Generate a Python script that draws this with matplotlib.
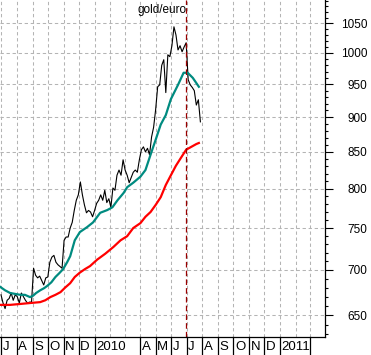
import matplotlib
matplotlib.use("Agg")
import matplotlib.pyplot as plt
import matplotlib.dates as mdates
import matplotlib.transforms as mtransforms
from matplotlib.ticker import FixedLocator, FuncFormatter, NullFormatter
import numpy as np
import pandas as pd

plt.rcParams['font.family'] = ['Liberation Sans', 'DejaVu Sans']

# gold priced in euro, sampled every 4 days from 1 Jul 2009
gold = [672, 663, 657, 666, 668, 674, 666, 672, 670, 663,
        674, 670, 666, 663, 664, 664, 702, 694, 691, 693,
        688, 683, 691, 692, 709, 715, 717, 709, 706, 704,
        702, 735, 739, 739, 750, 757, 772, 785, 792, 809,
        792, 779, 769, 772, 770, 764, 772, 781, 785, 792,
        785, 798, 782, 787, 776, 801, 798, 818, 825, 818,
        839, 825, 818, 808, 815, 822, 825, 822, 839, 853,
        857, 850, 855, 846, 871, 885, 911, 946, 949, 980,
        989, 937, 997, 994, 1012, 1044, 1030, 1005, 1012, 1002,
        1010, 1017, 957, 949, 945, 940, 918, 926, 893]
gold_dates = pd.date_range('2009-07-01', periods=len(gold), freq='4D')

# 50 day moving average
ma50_dates = pd.to_datetime([
    '2009-06-29', '2009-07-09', '2009-07-19', '2009-07-29', '2009-08-08',
    '2009-08-17', '2009-08-27', '2009-09-02', '2009-09-08', '2009-09-16',
    '2009-09-24', '2009-09-30', '2009-10-08', '2009-10-16', '2009-10-23',
    '2009-10-31', '2009-11-08', '2009-11-14', '2009-11-23', '2009-12-03',
    '2009-12-17', '2009-12-29', '2010-01-12', '2010-01-26', '2010-02-05',
    '2010-02-15', '2010-02-27', '2010-03-06', '2010-03-18', '2010-04-01',
    '2010-04-11', '2010-04-21', '2010-05-01', '2010-05-11', '2010-05-21',
    '2010-05-31', '2010-06-14', '2010-06-25', '2010-07-03', '2010-07-13',
    '2010-07-25'])
ma50 = [681, 677, 674, 673, 672, 672, 669.5, 671, 674, 677,
        679.5, 682, 686, 692, 696, 701, 709, 716, 735, 745,
        751, 757, 769, 772.5, 776, 785, 794.5, 802, 808, 816,
        825, 846, 867, 889, 903, 927, 949, 968, 968, 960,
        946]

# 200 day moving average
ma200_dates = pd.to_datetime([
    '2009-06-29', '2009-07-19', '2009-08-08', '2009-08-27', '2009-09-16',
    '2009-09-26', '2009-10-06', '2009-10-16', '2009-10-26', '2009-11-04',
    '2009-11-14', '2009-11-23', '2009-12-03', '2009-12-13', '2009-12-23',
    '2010-01-06', '2010-01-22', '2010-02-07', '2010-02-21', '2010-03-06',
    '2010-03-18', '2010-04-01', '2010-04-11', '2010-04-21', '2010-05-01',
    '2010-05-11', '2010-05-21', '2010-05-31', '2010-06-10', '2010-06-20',
    '2010-06-30', '2010-07-10', '2010-07-20', '2010-07-25'])
ma200 = [661, 661, 662, 663, 664, 666, 669.5, 672, 675, 680,
         685, 692, 697, 701, 704.5, 712, 719, 727, 735, 740,
         750, 756, 764, 770, 779, 789, 805, 818, 831, 842,
         853, 857, 861, 862.5]

marker_date = pd.Timestamp('2010-06-29')

yticks = [650, 700, 750, 800, 850, 900, 950, 1000, 1050]
yminor = [v for v in range(630, 1100, 10) if v not in yticks]

month_labels = ['J', 'A', 'S', 'O', 'N', 'D', '2010', 'A', 'M', 'J',
                'J', 'A', 'S', 'O', 'N', 'D', '2011']
month_starts = pd.to_datetime([
    '2009-07-01', '2009-08-01', '2009-09-01', '2009-10-01', '2009-11-01',
    '2009-12-01', '2010-01-01', '2010-04-01', '2010-05-01', '2010-06-01',
    '2010-07-01', '2010-08-01', '2010-09-01', '2010-10-01', '2010-11-01',
    '2010-12-01', '2011-01-01'])
labels_end = pd.Timestamp('2011-03-01')

fig = plt.figure(figsize=(3.71, 3.55), dpi=100)
ax = fig.add_axes([0, 18/355, 325/371, 1 - 18/355])

ax.plot(gold_dates, gold, color='black', linewidth=0.8)
ax.plot(ma50_dates, ma50, color='#008b80', linewidth=1.6)
ax.plot(ma200_dates, ma200, color='#ff0000', linewidth=1.6)
ax.axvline(marker_date, color='#990000', linewidth=0.9, linestyle=(0, (4.5, 2.5)))

ax.set_yscale('log')
ax.set_ylim(627, 1091)
ax.set_xlim(pd.Timestamp('2009-06-29'), pd.Timestamp('2011-03-30'))

ax.yaxis.set_major_locator(FixedLocator(yticks))
ax.yaxis.set_minor_locator(FixedLocator(yminor))
ax.yaxis.set_major_formatter(FuncFormatter(lambda v, p: '%d' % v))
ax.yaxis.set_minor_formatter(NullFormatter())
ax.yaxis.tick_right()
ax.tick_params(axis='y', which='major', length=5.8, width=0.8, pad=24.5,
               labelsize=8.5, direction='out')
ax.tick_params(axis='y', which='minor', length=2.5, width=0.8, direction='out')
for lbl in ax.get_yticklabels():
    lbl.set_horizontalalignment('right')

ax.xaxis.set_major_locator(mdates.MonthLocator())
ax.xaxis.set_major_formatter(NullFormatter())
ax.tick_params(axis='x', which='both', length=0)

ax.grid(True, color='#b4b4b4', linewidth=0.75, linestyle=(0, (3.2, 2.6)))
ax.set_axisbelow(True)

for s in ['left', 'top']:
    ax.spines[s].set_visible(False)
for s in ['right', 'bottom']:
    ax.spines[s].set_linewidth(0.9)

# month strip below the chart
trans = mtransforms.blended_transform_factory(ax.transData, fig.transFigure)
for d in list(month_starts) + [labels_end]:
    ax.plot([d, d], [0, 18/355], color='black', linewidth=0.9,
            transform=trans, clip_on=False)
for lab, d in zip(month_labels, month_starts):
    ax.text(d + pd.Timedelta(days=3), 8.5/355, lab, transform=trans,
            ha='left', va='center', fontsize=9.5, color='black')

fig.text(162/371, 1 - 4/355, 'gold/euro', ha='center', va='top', fontsize=8.5)

plt.savefig('out.png', dpi=100)
